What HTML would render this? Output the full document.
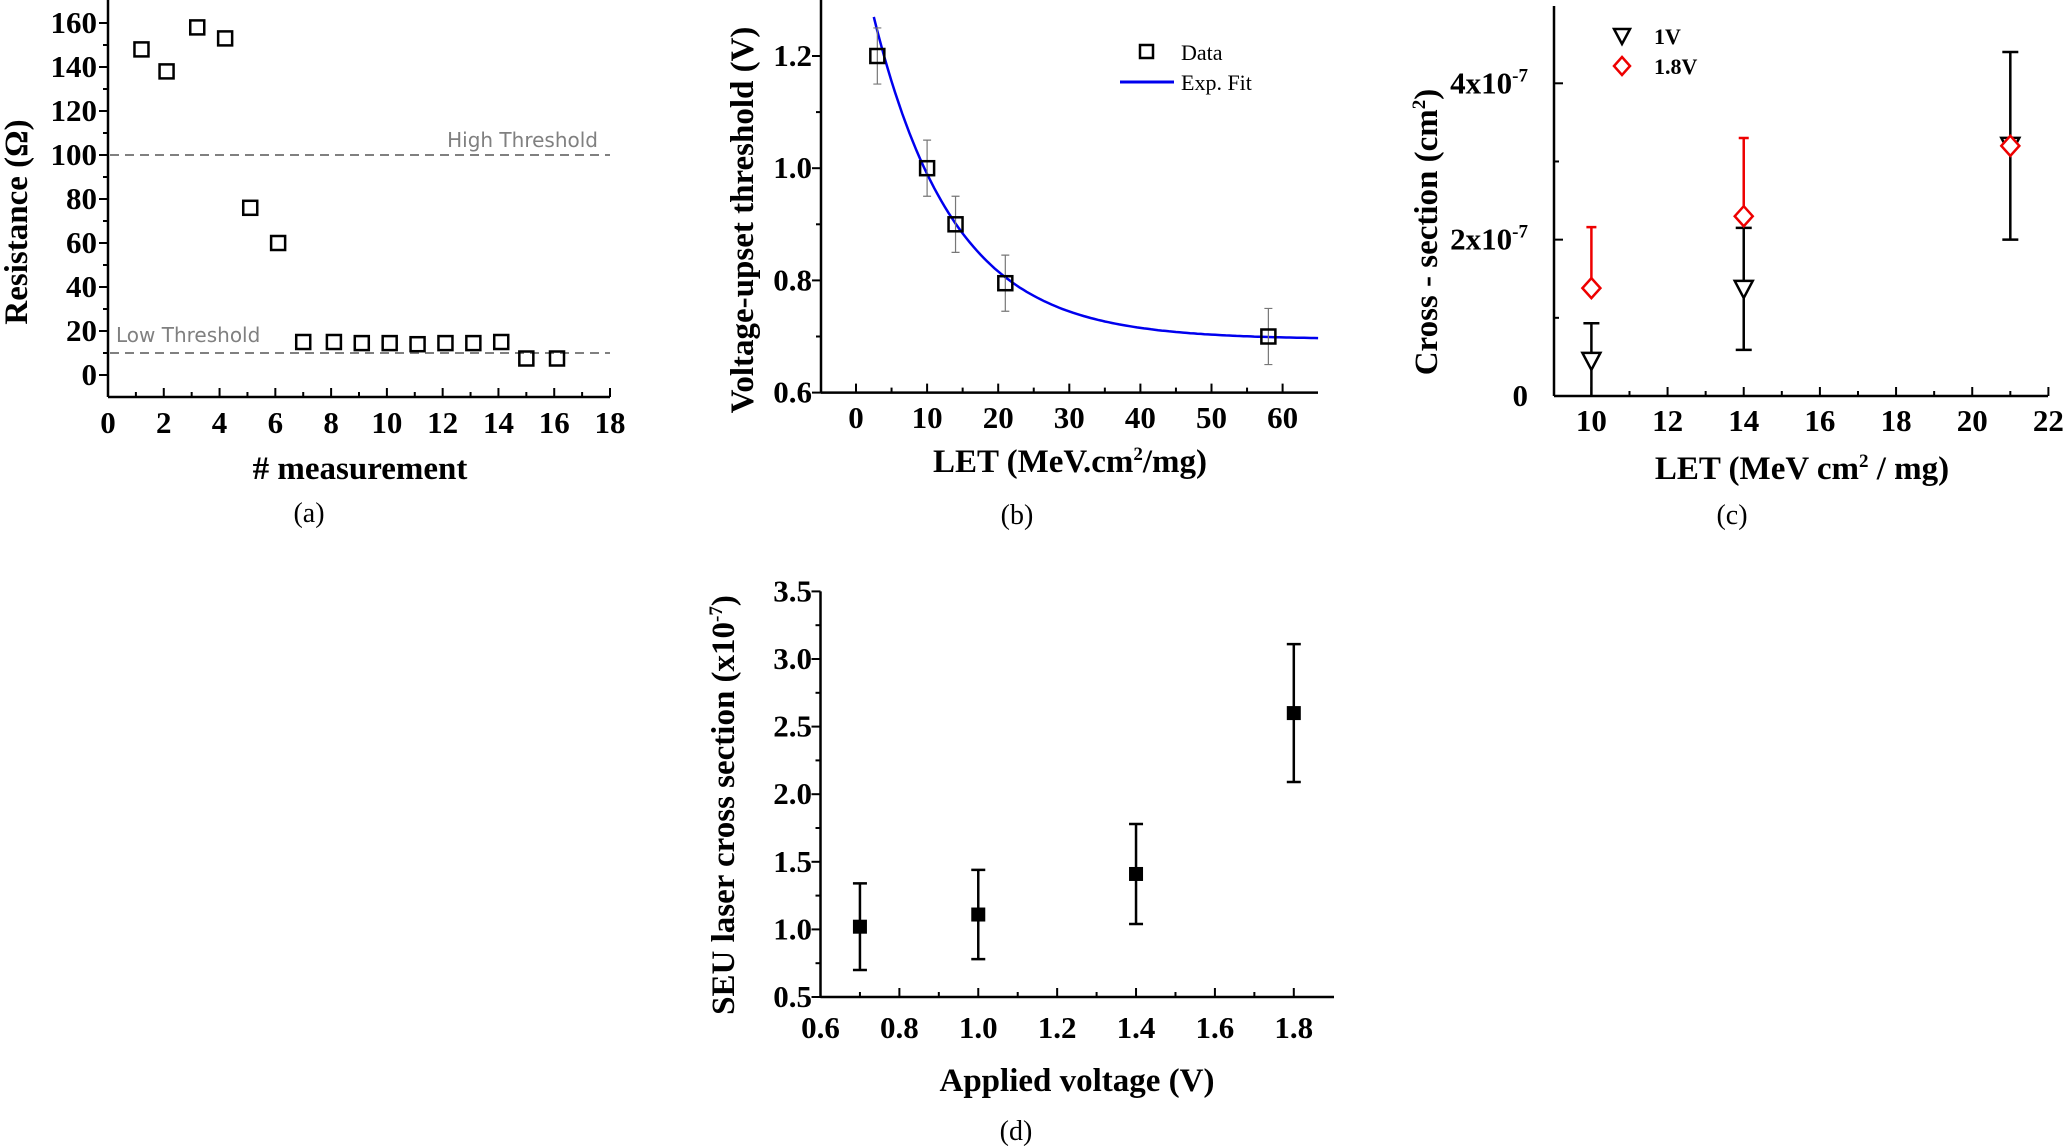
<!DOCTYPE html>
<html><head><meta charset="utf-8">
<style>
body{margin:0;background:#fff;}
svg{display:block;}
text{font-family:"Liberation Serif",serif;}
.tk{font-weight:bold;font-size:31px;}
.tt{font-weight:bold;font-size:33px;}
.cap{font-size:28px;}
</style></head>
<body>
<svg id="fig" width="2065" height="1146" viewBox="0 0 2065 1146" xmlns="http://www.w3.org/2000/svg">
<g id="pa"></g>
<g id="pb"></g>
<g id="pc"></g>
<g id="pd"></g>
</svg>
<script>
// Panel (a) data
const aX = [1.2,2.1,3.2,4.2,5.1,6.1,7,8.1,9.1,10.1,11.1,12.1,13.1,14.1,15,16.1];
const aY = [148,138,158,153,76,60,15,15,14.5,14.5,14,14.5,14.5,15,7.5,7.5];
const aXTicks = [0,2,4,6,8,10,12,14,16,18];
const aYTicks = [0,20,40,60,80,100,120,140,160];
const aThresholds = [100,10];
// Panel (b) data
const bX = [3,10,14,21,58];
const bY = [1.2,1.0,0.9,0.795,0.7];
const bErr = [0.05,0.05,0.05,0.05,0.05];
const bFitParams = [0.695,0.718,11.23]; // y0, A, t
const bXTicks = [0,10,20,30,40,50,60];
const bYTicks = [0.6,0.8,1.0,1.2];
// Panel (c) data
const cX = [10,14,21];
const c1V = [0.45,1.37,3.2];
const c1VErr = [0.48,0.78,1.2];
const c18V = [1.38,2.3,3.2];
const c18VErr = [0.78,1.0,0];
const cXTicks = [10,12,14,16,18,20,22];
const cYTicks = [0,2,4];
// Panel (d) data
const dX = [0.7,1.0,1.4,1.8];
const dY = [1.02,1.11,1.41,2.6];
const dErr = [0.32,0.33,0.37,0.51];
const dXTicks = [0.6,0.8,1.0,1.2,1.4,1.6,1.8];
const dYTicks = [0.5,1.0,1.5,2.0,2.5,3.0,3.5];

const NS="http://www.w3.org/2000/svg";
function mk(parent,tag,attrs,txt){const e=document.createElementNS(NS,tag);for(const k in attrs)e.setAttribute(k,attrs[k]);if(txt!==undefined)e.textContent=txt;parent.appendChild(e);return e;}
function lin(d0,d1,r0,r1){return v=>r0+(v-d0)*(r1-r0)/(d1-d0);}

function axes(g,o){
  const ax=mk(g,'line',{x1:o.x0,y1:o.y1,x2:o.x1,y2:o.y1,stroke:'#000','stroke-width':2.5});
  
  
  const ay=mk(g,'line',{x1:o.x0,y1:o.y0,x2:o.x0,y2:o.y1,stroke:'#000','stroke-width':2.5});
  
  
  o.xt.forEach((v,i)=>{const x=o.sx(v);
    mk(g,'line',{x1:x,y1:o.y1,x2:x,y2:o.y1-9,stroke:'#000','stroke-width':2});
    if(i<o.xt.length-1){const xm=o.sx((v+o.xt[i+1])/2);mk(g,'line',{x1:xm,y1:o.y1,x2:xm,y2:o.y1-5,stroke:'#000','stroke-width':2});}
    const t=mk(g,'text',{x:x,y:o.xly,'text-anchor':'middle','class':'tk'},o.xf(v));
    
    
  });
  const dir=o.yin?1:-1;
  o.yt.forEach((v,i)=>{const y=o.sy(v);
    mk(g,'line',{x1:o.x0,y1:y,x2:o.x0+dir*9,y2:y,stroke:'#000','stroke-width':2});
    if(i<o.yt.length-1){const ym=o.sy((v+o.yt[i+1])/2);mk(g,'line',{x1:o.x0,y1:ym,x2:o.x0+dir*5,y2:ym,stroke:'#000','stroke-width':2});}
  });
}

// ---------- Panel A ----------
(function(){
  const g=document.getElementById('pa');
  const sx=lin(0,18,108,610), sy=lin(0,160,375,23);
  axes(g,{x0:108,x1:610,y0:0,y1:397,sx,sy,xt:aXTicks,yt:aYTicks,xly:433,xf:v=>v});
  aYTicks.forEach(v=>{const t=mk(g,'text',{x:97,y:sy(v)+10,'text-anchor':'end','class':'tk'},v);
    
    });
  aThresholds.forEach(v=>{const l=mk(g,'line',{x1:110,y1:sy(v),x2:610,y2:sy(v),stroke:'#808080','stroke-width':2,'stroke-dasharray':'9,6'});
    
    });
  mk(g,'text',{x:598,y:sy(aThresholds[0])-8,'text-anchor':'end',fill:'#808080','font-size':20,style:'font-family:"DejaVu Sans",sans-serif'},'High Threshold');
  mk(g,'text',{x:116,y:sy(aThresholds[1])-11,fill:'#808080','font-size':20,style:'font-family:"DejaVu Sans",sans-serif'},'Low Threshold');
  aX.forEach((x,i)=>{const r=mk(g,'rect',{x:sx(x)-7,y:sy(aY[i])-7,width:14,height:14,fill:'none',stroke:'#000','stroke-width':2.5});
    
    });
  mk(g,'text',{x:360,y:479,'text-anchor':'middle','class':'tt'},'# measurement');
  mk(g,'text',{x:0,y:0,'text-anchor':'middle','class':'tt',transform:'translate(27,222) rotate(-90)'},'Resistance (Ω)');
  mk(g,'text',{x:309,y:522,'text-anchor':'middle','class':'cap'},'(a)');
})();

// ---------- Panel B ----------
(function(){
  const g=document.getElementById('pb');
  const sx=lin(0,60,856,1282.6), sy=lin(0.6,1.2,392.6,56);
  axes(g,{x0:821,x1:1318,y0:0,y1:392.6,sx,sy,xt:bXTicks,yt:bYTicks,xly:428,xf:v=>v});
  bYTicks.forEach(v=>{const t=mk(g,'text',{x:812,y:sy(v)+10,'text-anchor':'end','class':'tk'},v.toFixed(1));
    
    });
  let d='';
  for(let x=2.5;x<=65;x+=0.5){const y=bFitParams[0]+bFitParams[1]*Math.exp(-x/bFitParams[2]);d+=(d?'L':'M')+sx(x).toFixed(1)+','+sy(y).toFixed(1);}
  const fit=mk(g,'path',{d:d,fill:'none',stroke:'#0000ee','stroke-width':2.5});
  
  
  bX.forEach((x,i)=>{const X=sx(x);
    const e=mk(g,'path',{d:`M${X},${sy(bY[i]-bErr[i])}V${sy(bY[i]+bErr[i])}M${X-4},${sy(bY[i]-bErr[i])}h8M${X-4},${sy(bY[i]+bErr[i])}h8`,stroke:'#777','stroke-width':1.2,fill:'none'});
    
    
    const r=mk(g,'rect',{x:X-7,y:sy(bY[i])-7,width:14,height:14,fill:'none',stroke:'#000','stroke-width':2.5});
    
    });
  const lg=mk(g,'g',{});
  
  
  mk(lg,'rect',{x:1140,y:45,width:13,height:13,fill:'none',stroke:'#000','stroke-width':2.5});
  mk(lg,'text',{x:1181,y:60,'font-size':22},'Data');
  mk(lg,'line',{x1:1120,y1:82,x2:1174,y2:82,stroke:'#0000ee','stroke-width':3});
  mk(lg,'text',{x:1181,y:90,'font-size':22},'Exp. Fit');
  const xt=mk(g,'text',{x:1070,y:472,'text-anchor':'middle','class':'tt'});
  
  xt.innerHTML='LET (MeV.cm<tspan dy="-12" font-size="19">2</tspan><tspan dy="12">/mg)</tspan>';
  mk(g,'text',{x:0,y:0,'text-anchor':'middle','class':'tt',transform:'translate(753,220) rotate(-90)'},'Voltage-upset threshold (V)');
  mk(g,'text',{x:1017,y:524,'text-anchor':'middle','class':'cap'},'(b)');
})();

// ---------- Panel C ----------
(function(){
  const g=document.getElementById('pc');
  const sx=lin(10,22,1591.4,2048.4), sy=lin(0,4,396,83.3);
  axes(g,{x0:1554,x1:2048,y0:6,y1:396,sx,sy,xt:cXTicks,yt:cYTicks,xly:431,xf:v=>v,yin:true});
  cYTicks.forEach(v=>{const t=mk(g,'text',{x:1528,y:sy(v)+10,'text-anchor':'end','class':'tk'});
    
    
    t.innerHTML= v===0?'0':v+'x10<tspan dy="-12" font-size="19">-7</tspan>';});
  cX.forEach((x,i)=>{const X=sx(x);
    const lo=Math.max(0,c1V[i]-c1VErr[i]),hi=c1V[i]+c1VErr[i];
    const e=mk(g,'path',{d:`M${X},${sy(lo)}V${sy(hi)}M${X-8},${sy(hi)}h16`+(lo>0?`M${X-8},${sy(lo)}h16`:''),stroke:'#000','stroke-width':2.5,fill:'none'});
    
    
    const Y=sy(c1V[i]);
    const t=mk(g,'path',{d:`M${X-9},${Y-8}L${X+9},${Y-8}L${X},${Y+9}Z`,fill:'#fff',stroke:'#000','stroke-width':2.5});
    
    });
  cX.forEach((x,i)=>{const X=sx(x);
    if(c18VErr[i]>0){const hi=c18V[i]+c18VErr[i];
      const e=mk(g,'path',{d:`M${X},${sy(c18V[i])}V${sy(hi)}M${X-5},${sy(hi)}h10`,stroke:'#ee0000','stroke-width':2.5,fill:'none'});
      
      }
    const Y=sy(c18V[i]);
    const d=mk(g,'path',{d:`M${X},${Y-10}L${X+9},${Y}L${X},${Y+10}L${X-9},${Y}Z`,fill:'#fff',stroke:'#ee0000','stroke-width':2.5});
    
    });
  const lg=mk(g,'g',{});
  
  
  mk(lg,'path',{d:'M1614,29L1630,29L1622,44Z',fill:'#fff',stroke:'#000','stroke-width':2.5});
  mk(lg,'text',{x:1654,y:44,'font-size':22,'font-weight':'bold'},'1V');
  mk(lg,'path',{d:'M1622,57L1630,66L1622,75L1614,66Z',fill:'#fff',stroke:'#ee0000','stroke-width':2.5});
  mk(lg,'text',{x:1654,y:74,'font-size':22,'font-weight':'bold'},'1.8V');
  const xt=mk(g,'text',{x:1802,y:479,'text-anchor':'middle','class':'tt'});
  
  xt.innerHTML='LET (MeV cm<tspan dy="-12" font-size="19">2</tspan><tspan dy="12"> / mg)</tspan>';
  const yt=mk(g,'text',{x:0,y:0,'text-anchor':'middle','class':'tt',transform:'translate(1437,232) rotate(-90)'});
  
  yt.innerHTML='Cross - section (cm<tspan dy="-12" font-size="19">2</tspan><tspan dy="12">)</tspan>';
  mk(g,'text',{x:1732,y:524,'text-anchor':'middle','class':'cap'},'(c)');
})();

// ---------- Panel D ----------
(function(){
  const g=document.getElementById('pd');
  const sx=lin(0.6,1.8,820.5,1293.8), sy=lin(0.5,3.5,997,591.4);
  axes(g,{x0:820.5,x1:1334,y0:591.4,y1:997,sx,sy,xt:dXTicks,yt:dYTicks,xly:1038,xf:v=>v.toFixed(1)});
  dYTicks.forEach(v=>{const t=mk(g,'text',{x:812,y:sy(v)+10,'text-anchor':'end','class':'tk'},v.toFixed(1));
    
    });
  dX.forEach((x,i)=>{const X=sx(x),lo=sy(dY[i]-dErr[i]),hi=sy(dY[i]+dErr[i]);
    const e=mk(g,'path',{d:`M${X},${lo}V${hi}M${X-7},${lo}h14M${X-7},${hi}h14`,stroke:'#000','stroke-width':2.5,fill:'none'});
    
    
    const r=mk(g,'rect',{x:X-7,y:sy(dY[i])-7,width:14,height:14,fill:'#000'});
    
    });
  mk(g,'text',{x:1077,y:1091,'text-anchor':'middle','class':'tt'},'Applied  voltage (V)');
  const yt=mk(g,'text',{x:0,y:0,'text-anchor':'middle','class':'tt',transform:'translate(734,805) rotate(-90)'});
  
  yt.innerHTML='SEU laser cross section (x10<tspan dy="-12" font-size="19">-7</tspan><tspan dy="12">)</tspan>';
  mk(g,'text',{x:1016,y:1140,'text-anchor':'middle','class':'cap'},'(d)');
})();
</script>
</body></html>
